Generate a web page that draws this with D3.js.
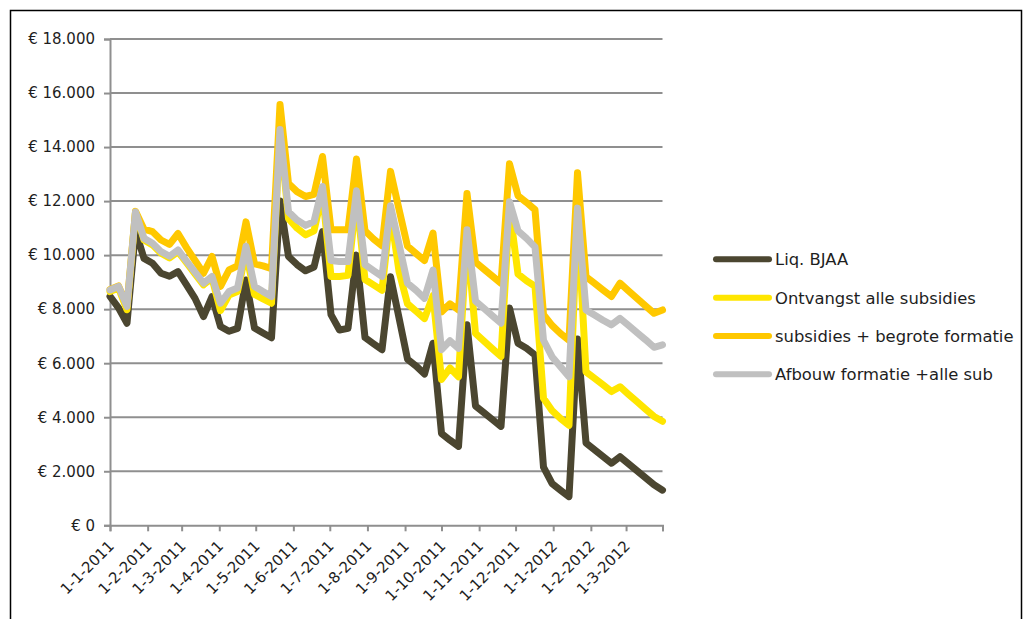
<!DOCTYPE html>
<html>
<head>
<meta charset="utf-8">
<script src="https://cdn.jsdelivr.net/npm/d3@7/dist/d3.min.js"></script>
<style>
  html, body { margin: 0; padding: 0; background: #fff; }
  svg { display: block; }
  text { font-family: "DejaVu Sans", Verdana, sans-serif; fill: #1e1e1e; }
</style>
</head>
<body>
<svg id="chart" width="1032" height="619"></svg>
<script>
// Weekly observation dates (d-m-yyyy)
const dates = [
  "1-1-2011","8-1-2011","15-1-2011","22-1-2011","29-1-2011",
  "5-2-2011","12-2-2011","19-2-2011","26-2-2011",
  "5-3-2011","12-3-2011","19-3-2011","26-3-2011",
  "2-4-2011","9-4-2011","16-4-2011","23-4-2011","30-4-2011",
  "7-5-2011","14-5-2011","21-5-2011","28-5-2011",
  "4-6-2011","11-6-2011","18-6-2011","25-6-2011",
  "2-7-2011","9-7-2011","16-7-2011","23-7-2011","30-7-2011",
  "6-8-2011","13-8-2011","20-8-2011","27-8-2011",
  "3-9-2011","10-9-2011","17-9-2011","24-9-2011",
  "1-10-2011","8-10-2011","15-10-2011","22-10-2011","29-10-2011",
  "5-11-2011","12-11-2011","19-11-2011","26-11-2011",
  "3-12-2011","10-12-2011","17-12-2011","24-12-2011","31-12-2011",
  "7-1-2012","14-1-2012","21-1-2012","28-1-2012",
  "4-2-2012","11-2-2012","18-2-2012","25-2-2012",
  "3-3-2012","10-3-2012","17-3-2012","24-3-2012","31-3-2012"
];

// Liq. BJAA
const liqBJAA = [
  8470, 8050, 7480, 10900, 9880, 9700, 9330, 9220, 9390, 8900,
  8400, 7725, 8460, 7360, 7180, 7290, 9080, 7300, 7120, 6940,
  12000, 9950, 9650, 9420, 9560, 10870, 7800, 7230, 7290, 10000,
  6950, 6720, 6500, 9200, 7680, 6150, 5900, 5600, 6740, 3400,
  3150, 2920, 7420, 4420, 4170, 3910, 3660, 8040, 6740, 6550,
  6300, 2150, 1550, 1300, 1060, 6900, 3050, 2800, 2550, 2300,
  2540, 2280, 2020, 1760, 1500, 1300
];

// Ontvangst alle subsidies
const ontvangst = [
  8650, 8780, 7980, 11580, 10560, 10380, 10070, 9900, 10130, 9720,
  9310, 8900, 9150, 7950, 8520, 8650, 10100, 8550, 8380, 8220,
  14580, 11350, 11000, 10750, 10900, 12300, 9210, 9210, 9250, 12150,
  9100, 8900, 8700, 11600, 9400, 8200, 7930, 7650, 8500, 5400,
  5820, 5500, 10700, 7100, 6820, 6530, 6250, 11750, 9300, 9050,
  8850, 4700, 4250, 3950, 3700, 11500, 5680, 5440, 5200, 4950,
  5130, 4850, 4580, 4300, 4030, 3850
];

// subsidies + begrote formatie
const begroot = [
  8730, 8860, 8120, 11620, 10960, 10870, 10560, 10400, 10800, 10280,
  9800, 9330, 9950, 8840, 9450, 9600, 11230, 9680, 9600, 9500,
  15580, 12650, 12350, 12170, 12250, 13650, 10940, 10940, 10940, 13560,
  10900, 10600, 10350, 13100, 11700, 10330, 10060, 9800, 10820, 7900,
  8200, 7970, 12280, 9740, 9480, 9220, 8960, 13380, 12200, 11950,
  11680, 7800, 7400, 7100, 6850, 13050, 9200, 8960, 8710, 8470,
  8960, 8680, 8400, 8120, 7850, 7970
];

// Afbouw formatie +alle sub
const afbouw = [
  8710, 8840, 8100, 11600, 10620, 10440, 10130, 9960, 10190, 9780,
  9370, 8960, 9210, 8220, 8650, 8780, 10330, 8840, 8650, 8470,
  14650, 11600, 11300, 11100, 11240, 12540, 9800, 9760, 9760, 12380,
  9650, 9430, 9210, 11830, 10400, 8960, 8700, 8400, 9450, 6500,
  6830, 6550, 10940, 8300, 8030, 7750, 7480, 11980, 10900, 10620,
  10300, 6850, 6240, 5870, 5500, 11740, 7970, 7780, 7590, 7420,
  7660, 7400, 7130, 6870, 6590, 6680
];

const seriesNames = ["Liq. BJAA", "Ontvangst alle subsidies", "subsidies + begrote formatie", "Afbouw formatie +alle sub"];
const seriesColors = ["#4b4630", "#ffe600", "#ffc800", "#c0c0c0"];
const seriesValues = [liqBJAA, ontvangst, begroot, afbouw];

const yTicks = [0, 2000, 4000, 6000, 8000, 10000, 12000, 14000, 16000, 18000];
const xTickLabels = [
  "1-1-2011","1-2-2011","1-3-2011","1-4-2011","1-5-2011","1-6-2011","1-7-2011",
  "1-8-2011","1-9-2011","1-10-2011","1-11-2011","1-12-2011","1-1-2012","1-2-2012","1-3-2012"
];

const parse = d3.timeParse("%d-%m-%Y");
const dateObjs = dates.map(parse);

const svg = d3.select("#chart");

// outer frame
svg.append("rect")
  .attr("x", 10.5).attr("y", 10.5)
  .attr("width", 1011).attr("height", 640)
  .attr("fill", "none").attr("stroke", "#000").attr("stroke-width", 1.5);

const plot = { left: 110, right: 662.5, top: 39, bottom: 525.3 };

const x = d3.scaleTime()
  .domain([dateObjs[0], dateObjs[dateObjs.length - 1]])
  .range([plot.left, plot.right]);

const y = d3.scaleLinear()
  .domain([0, 18000])
  .range([plot.bottom, plot.top]);

const nl = d3.formatLocale({ decimal: ",", thousands: ".", grouping: [3], currency: ["€ ", ""] });
const fmt = nl.format("$,");

const gridColor = "#8f8f8f";

// horizontal gridlines
svg.append("g").selectAll("line")
  .data(yTicks.filter(v => v > 0))
  .join("line")
  .attr("x1", plot.left).attr("x2", plot.right)
  .attr("y1", d => y(d)).attr("y2", d => y(d))
  .attr("stroke", gridColor).attr("stroke-width", 2);

// y axis
const yAxis = svg.append("g")
  .attr("transform", `translate(${plot.left},0)`)
  .call(d3.axisLeft(y).tickValues(yTicks).tickFormat(fmt).tickSize(6).tickPadding(9));
yAxis.select(".domain").attr("stroke", gridColor).attr("stroke-width", 2);
yAxis.selectAll(".tick line").attr("stroke", gridColor).attr("stroke-width", 2);
yAxis.selectAll(".tick text")
  .attr("font-size", 15).attr("font-family", "DejaVu Sans, Verdana, sans-serif")
  .attr("fill", "#1e1e1e");

// x axis
const monthTicks = xTickLabels.map(parse);
const xAxis = svg.append("g")
  .attr("transform", `translate(0,${plot.bottom})`)
  .call(d3.axisBottom(x).tickValues(monthTicks.concat([dateObjs[dateObjs.length - 1]])).tickSize(6).tickFormat(""));
xAxis.select(".domain").attr("stroke", gridColor).attr("stroke-width", 2);
xAxis.selectAll(".tick line").attr("stroke", gridColor).attr("stroke-width", 2);

svg.append("g").selectAll("text")
  .data(monthTicks)
  .join("text")
  .attr("transform", (d) => `translate(${x(d) + 5},547) rotate(-45)`)
  .attr("text-anchor", "end")
  .attr("font-size", 15)
  .text((d, i) => xTickLabels[i]);

// series lines, first series drawn at the bottom
const line = d3.line()
  .x((d, i) => x(dateObjs[i]))
  .y(d => y(d));

svg.append("g").selectAll("path")
  .data(seriesValues)
  .join("path")
  .attr("d", d => line(d))
  .attr("fill", "none")
  .attr("stroke", (d, i) => seriesColors[i])
  .attr("stroke-width", 7)
  .attr("stroke-linejoin", "round")
  .attr("stroke-linecap", "round");

// legend
const legendY = [259.3, 297.7, 336, 374.3];
const legend = svg.append("g").selectAll("g")
  .data(seriesNames)
  .join("g")
  .attr("transform", (d, i) => `translate(0,${legendY[i]})`);
legend.append("line")
  .attr("x1", 716).attr("x2", 769)
  .attr("stroke", (d, i) => seriesColors[i])
  .attr("stroke-width", 6)
  .attr("stroke-linecap", "round");
legend.append("text")
  .attr("x", 775)
  .attr("dy", "0.36em")
  .attr("font-size", 16.4)
  .text(d => d);
</script>
</body>
</html>
